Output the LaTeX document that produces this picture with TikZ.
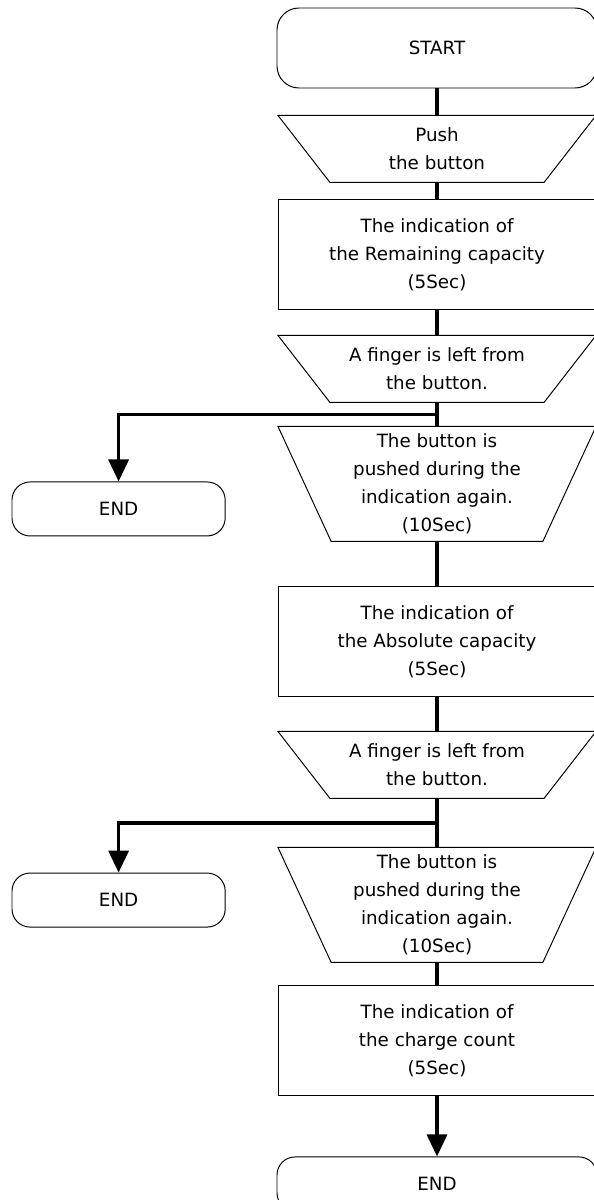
\documentclass[tikz,border=0pt]{standalone}
\usepackage{fontspec}
\setmainfont{DejaVu Sans}
\usetikzlibrary{arrows.meta,positioning,calc}

\begin{document}
\begin{tikzpicture}[line width=0.7pt,
    every node/.style={font=\fontsize{13}{20}\selectfont,align=center},
    flow/.style={line width=2.4pt},
    end flow/.style={flow,-{Triangle[length=0.55cm,width=0.5cm]}},
    term node/.style={draw,rounded corners=0.55cm,minimum width=8cm,minimum height=2cm},
    end node/.style={draw,rounded corners=0.45cm,minimum width=5.33cm,minimum height=1.35cm},
    proc node/.style={draw,minimum width=7.95cm,minimum height=2.75cm},
    io node/.style={minimum width=7.95cm,minimum height=1.675cm,outer sep=0pt},
    again node/.style={io node,minimum height=2.875cm}]

    \useasboundingbox (0,0) rectangle (14.85,-30);
    \clip (0,0) rectangle (14.85,-30);

    \node[term node] (1) at (10.925,-1.2) {START};
    \node[io node] (2) [below=0.675cm of 1] {Push\\the button};
    \node[proc node] (3) [below=0.425cm of 2] {The indication of\\the Remaining capacity\\(5Sec)};
    \node[io node] (4) [below=0.625cm of 3] {A finger is left from\\the button.};
    \node[again node] (5) [below=0.6cm of 4] {The button is\\pushed during the\\indication again.\\(10Sec)};
    \node[proc node] (6) [below=1.125cm of 5] {The indication of\\the Absolute capacity\\(5Sec)};
    \node[io node] (7) [below=0.85cm of 6] {A finger is left from\\the button.};
    \node[again node] (8) [below=1.225cm of 7] {The button is\\pushed during the\\indication again.\\(10Sec)};
    \node[proc node] (9) [below=0.575cm of 8] {The indication of\\the charge count\\(5Sec)};
    \node[end node,minimum width=8cm] (10) [below=1.5cm of 9] {END};

    % trapezia: wide side on top
    \foreach \n/\d in {2/1.3cm,4/1.3cm,5/1.33cm,7/1.3cm,8/1.33cm}
        \draw (\n.north west) -- (\n.north east) -- ([xshift=-\d]\n.south east)
            -- ([xshift=\d]\n.south west) -- cycle;

    % branches to the side ends
    \coordinate (41) at ($(4.south)!0.5!(5.north)$);
    \coordinate (71) at ($(7.south)!0.5!(8.north)$);
    \node[end node] (42) [below=1.675cm of 41,xshift=-7.96cm] {END};
    \node[end node] (72) [below=1.24cm of 71,xshift=-7.96cm] {END};

    \path (1) edge[flow] (2);
    \path (2) edge[flow] (3);
    \path (3) edge[flow] (4);
    \path (4) edge[flow] (5);
    \path (5) edge[flow] (6);
    \path (6) edge[flow] (7);
    \path (7) edge[flow] (8);
    \path (8) edge[flow] (9);
    \path (9) edge[end flow] (10);

    \draw[end flow] (41) -| (42);
    \draw[end flow] (71) -| (72);
\end{tikzpicture}
\end{document}
